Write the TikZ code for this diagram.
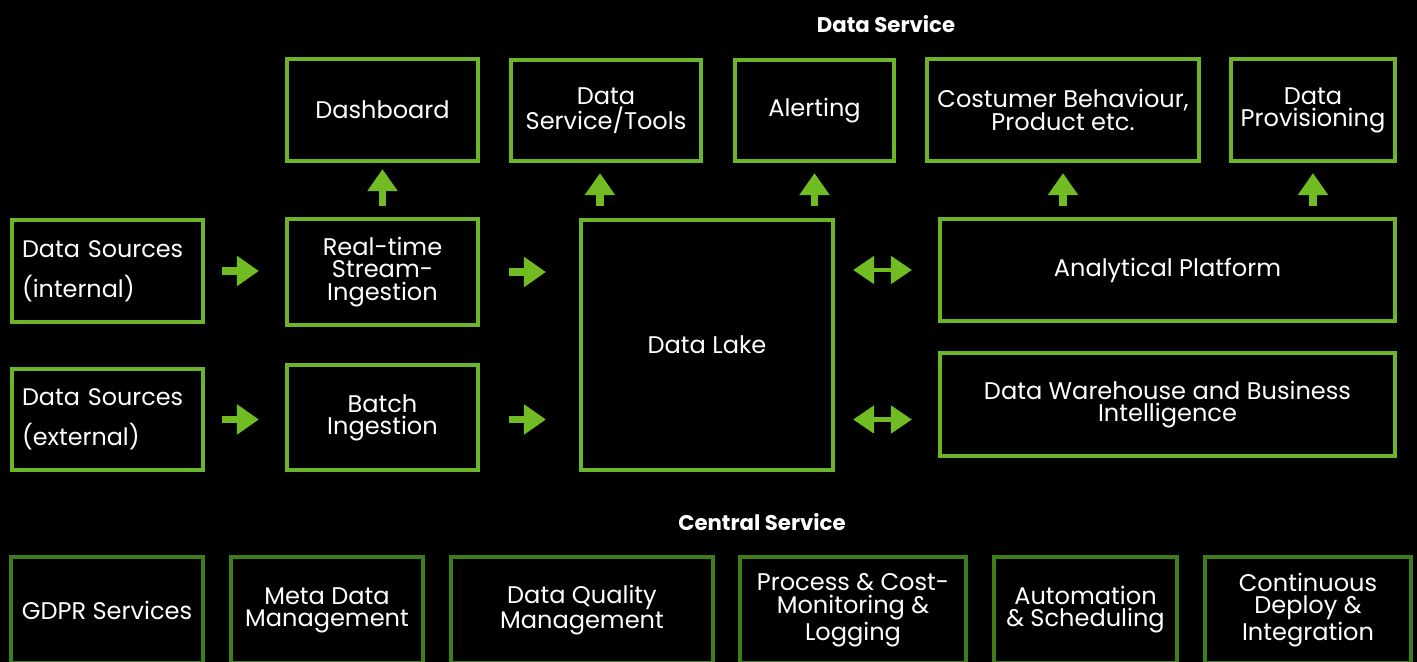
\documentclass[tikz,border=0pt]{standalone}
\usepackage{fontspec}
\setmainfont{Poppins}
\usepackage{xcolor}
\usetikzlibrary{arrows.meta,calc}

\definecolor{boxgreen}{HTML}{6CB52A}
\definecolor{arrgreen}{HTML}{70BC22}
\definecolor{darkgreen}{HTML}{3E7D1C}

\begin{document}
\begin{tikzpicture}[x=0.02cm, y=-0.02cm,
    box/.style={draw=boxgreen, line width=2.4pt, text=white, align=center, inner sep=0pt,
      font=\fontsize{13.7}{12.6}\selectfont},
    central/.style={box, draw=darkgreen, minimum height=2.12cm},
    source/.style={box, align=left, text width=3.42cm, font=\fontsize{13.6}{22.6}\selectfont},
    head/.style={text=white, font=\fontsize{12.1}{13}\selectfont\bfseries},
    arr/.style={line width=4.4pt, arrgreen, -{Triangle[length=0.44cm, width=0.58cm]}},
    biarr/.style={line width=2.8pt, arrgreen, {Triangle[length=0.42cm, width=0.54cm]}-{Triangle[length=0.42cm, width=0.54cm]}}]

  % Background
  \fill[black] (0,0) rectangle (1417,662);
  \useasboundingbox (0,0) rectangle (1417,662);

  % Headings
  \node[head] (hdata) at (886,24) {Data Service};
  \node[head] (hcentral) at (762,522) {Central Service};

  % Data service outputs
  \node[box, minimum width=3.82cm, minimum height=2.04cm] (dash) at (382.5,110) {Dashboard};
  \node[box, minimum width=3.80cm, minimum height=2.02cm] (tools) at (606,110.5) {Data\\Service/Tools};
  \node[box, minimum width=3.18cm, minimum height=2.02cm] (alert) at (814.5,110.5) {Alerting};
  \node[box, minimum width=5.44cm, minimum height=2.04cm] (cust) at (1063,110) {Costumer Behaviour,\\Product etc.};
  \node[box, minimum width=3.28cm, minimum height=2.04cm] (prov) at (1313,110) {Data\\Provisioning};

  % Sources and ingestion
  \node[source, minimum width=3.82cm, minimum height=2.04cm] (srcint) at (107.5,271) {Data Sources\\(internal)};
  \node[source, minimum width=3.82cm, minimum height=2.02cm] (srcext) at (107.5,419.5) {Data Sources\\(external)};
  \node[box, minimum width=3.82cm, minimum height=2.12cm] (rt) at (382.5,272) {Real-time\\Stream-\\Ingestion};
  \node[box, minimum width=3.82cm, minimum height=2.10cm] (batch) at (382.5,417.5) {Batch\\Ingestion};

  % Storage and platforms
  \node[box, minimum width=5.04cm, minimum height=5.00cm] (lake) at (707,345) {Data Lake};
  \node[box, minimum width=9.10cm, minimum height=2.04cm] (ana) at (1167.5,270) {Analytical Platform};
  \node[box, minimum width=9.10cm, minimum height=2.06cm] (dwh) at (1167.5,404.5) {Data Warehouse and Business\\Intelligence};

  % Flow arrows
  \draw[arr, shorten <=0.34cm, shorten >=0.52cm] (srcint.east) -- (srcint.east -| rt.west);
  \draw[arr, shorten <=0.34cm, shorten >=0.52cm] (srcext.east) -- (srcext.east -| batch.west);
  \draw[arr, shorten <=0.58cm, shorten >=0.66cm] (rt.east) -- (rt.east -| lake.west);
  \draw[arr, shorten <=0.58cm, shorten >=0.66cm] (batch.east |- srcext) -- (lake.west |- srcext);

  \draw[arr, shorten <=0.22cm, shorten >=0.12cm] (rt.north) -- (dash.south);
  \draw[arr, shorten <=0.24cm, shorten >=0.20cm] ($(lake.north west)+(21,0)$) -- ($(tools.south)+(-6,0)$);
  \draw[arr, shorten <=0.24cm, shorten >=0.20cm] (lake.north -| alert.south) -- (alert.south);
  \draw[arr, shorten <=0.22cm, shorten >=0.20cm] (ana.north -| cust.south) -- (cust.south);
  \draw[arr, shorten <=0.22cm, shorten >=0.20cm] (ana.north -| prov.south) -- (prov.south);

  \draw[biarr, shorten <=0.36cm, shorten >=0.52cm] (lake.east |- ana) -- (ana.west);
  \draw[biarr, shorten <=0.36cm, shorten >=0.52cm] (lake.east |- srcext) -- (dwh.west |- srcext);

  % Central service
  \node[central, minimum width=3.84cm] (gdpr) at (107,610) {GDPR Services};
  \node[central, minimum width=3.84cm] (meta) at (327,610) {Meta Data\\Management};
  \node[central, minimum width=5.24cm] (dq) at (582,610) {Data Quality\\Management};
  \node[central, minimum width=4.52cm, font=\fontsize{13.7}{13.6}\selectfont] (proc) at (853,610) {Process \& Cost-\\Monitoring \&\\Logging};
  \node[central, minimum width=3.66cm] (auto) at (1085.5,610) {Automation\\\& Scheduling};
  \node[central, minimum width=4.12cm] (cdi) at (1308,610) {Continuous\\Deploy \&\\Integration};

\end{tikzpicture}
\end{document}
